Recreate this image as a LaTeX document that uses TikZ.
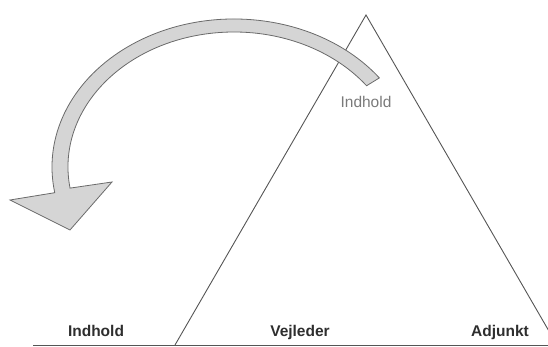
\documentclass[tikz,border=0pt]{standalone}
\usepackage{fontspec}
\setmainfont{Liberation Sans}
\usepackage{tikz}
\usetikzlibrary{calc}
\definecolor{cline}{HTML}{555555}
\definecolor{cband}{HTML}{D5D5D5}
\definecolor{cedge}{HTML}{6A6A6A}
\definecolor{ctext}{HTML}{2E2E2E}
\definecolor{csoft}{HTML}{7A7A7A}
\tikzset{
  edge/.style={draw=cline, line width=0.9pt},
  band/.style={fill=cband, draw=cedge, line width=0.8pt, line join=miter},
  lbl/.style={font=\fontsize{15.5}{18}\selectfont\bfseries, text=ctext, anchor=base, inner sep=0pt},
  inlbl/.style={font=\fontsize{15.5}{18}\selectfont, text=csoft, anchor=base, inner sep=0pt},
}
\begin{document}
\begin{tikzpicture}[x=1pt,y=1pt]
\useasboundingbox (0,0) rectangle (548,347);
\clip (0,0) rectangle (548,347);
% ---------------- triangle and ground
\coordinate (top) at (366,332);
\coordinate (footL) at (175,2);
\coordinate (footR) at (557,2);
\coordinate (ground) at (33,2);
\draw[edge] (footL) -- (top) -- (footR);
\draw[edge] (ground) -- (footR);
% ---------------- labels
\node[lbl] (indhold) at (96,10) {Indhold};
\node[lbl] (vejleder) at (300,10) {Vejleder};
\node[lbl] (adjunkt) at (500,10) {Adjunkt};
\node[inlbl] (inner) at (366,239) {Indhold};
% ---------------- curved arrow
\coordinate (c) at (234,180);
\draw[band] ($(c)+(37:182 and 148)$)
  arc[start angle=37, end angle=190, x radius=182, y radius=148]
  -- (10,147) -- (70,117) -- (112,165)
  -- ($(c)+(189:166 and 135)$)
  arc[start angle=189, end angle=37, x radius=166, y radius=135]
  -- cycle;
\end{tikzpicture}
\end{document}
